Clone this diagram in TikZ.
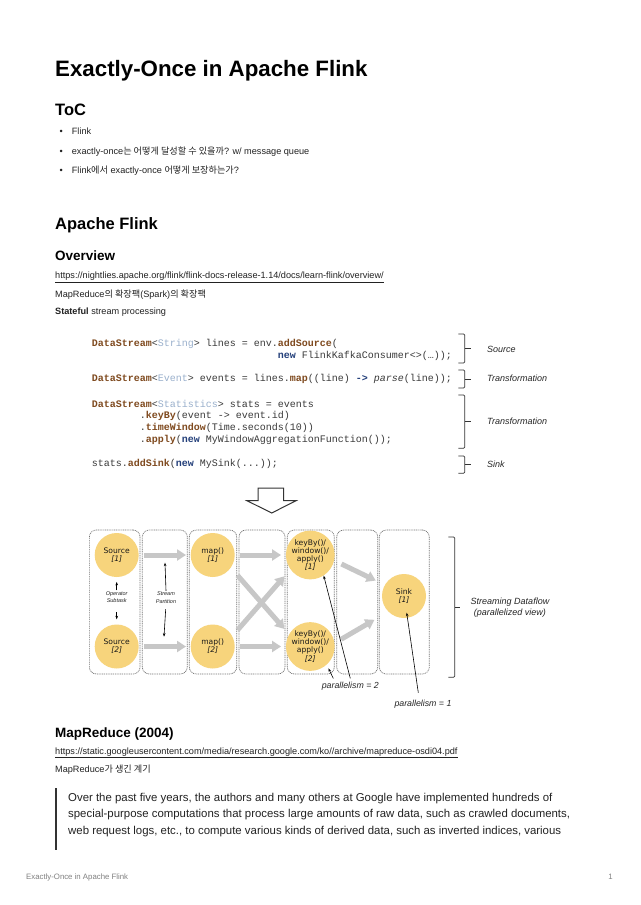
\documentclass[tikz,border=0pt]{standalone}
\usepackage{fontspec}
\setmainfont{Liberation Sans}
\setmonofont{Liberation Mono}
\newfontfamily\krfont{Noto Sans CJK KR}
\newfontfamily\opfont{DejaVu Sans}
\usetikzlibrary{arrows.meta,positioning,calc}

\definecolor{codebrown}{HTML}{7F4A1F}
\definecolor{codetype}{HTML}{9AB0CC}
\definecolor{codenew}{HTML}{233F7A}
\definecolor{codetext}{HTML}{3A3A3A}
\definecolor{opfill}{HTML}{F7D47C}
\definecolor{bodytext}{HTML}{222222}

\newcommand\fs[2]{\fontsize{#1}{#2}\selectfont}
\newcommand\kw[1]{\textcolor{codebrown}{\textbf{#1}}}
\newcommand\ty[1]{\textcolor{codetype}{#1}}
\newcommand\nw[1]{\textcolor{codenew}{\textbf{#1}}}
\newcommand\hangul[1]{{\krfont #1}}
\newcommand\bul{\makebox[12.2pt][l]{•}}
% square brace: x, top, bottom, tick length
\newcommand\sqbrace[4]{%
  \draw[brc] (#1,#2) -- (#1+6.5,#2) -- (#1+6.5,#3) -- (#1,#3);
  \draw[brc] (#1+6.5,{(#2+#3)/2}) -- ++(#4,0);}

\begin{document}
\begin{tikzpicture}[
    x=1pt, y=-1pt,
    txt/.style={anchor=base west, inner sep=0pt, text=bodytext, font=\fs{9.15}{11}},
    hone/.style={anchor=base west, inner sep=0pt, font=\bfseries\fs{22.3}{26}},
    htwo/.style={anchor=base west, inner sep=0pt, font=\bfseries\fs{16.5}{20}},
    hthree/.style={anchor=base west, inner sep=0pt, font=\bfseries\fs{13.5}{16}},
    code/.style={anchor=base west, inner sep=0pt, text=codetext, font=\ttfamily\fs{10}{12}},
    brc/.style={line width=0.8pt, draw=black!80, rounded corners=1.2pt},
    blab/.style={anchor=base west, inner sep=0pt, text=black!85, font=\itshape\fs{9}{11}},
    col/.style={draw=black!55, dash pattern=on 1pt off 0.8pt, line width=0.7pt, rounded corners=7pt, minimum height=144pt},
    op/.style={circle, fill=opfill, minimum size=44pt, inner sep=0pt, align=center, text=black!90, font=\opfont\fs{7.6}{8.2}},
    flow/.style={-{Triangle[width=11pt,length=9pt]}, line width=5pt, draw=black!22},
    tiny/.style={align=center, inner sep=1pt, text=black!85, font=\itshape\fs{5.5}{7.2}},
    ptr/.style={-{Stealth[length=3.5pt,width=2.6pt]}, line width=0.6pt},
    plab/.style={inner sep=0pt, text=black!85, font=\itshape\fs{8.8}{10}},
    qt/.style={anchor=base west, inner sep=0pt, text=bodytext, font=\fs{11.4}{14}},
    foot/.style={anchor=base west, inner sep=0pt, text=black!50, font=\fs{7.8}{9}}
]
\fill[white] (0,0) rectangle (640,905);
\useasboundingbox (0,0) rectangle (640,905);

% headings and toc
\node[hone] (title) at (55,76) {Exactly-Once in Apache Flink};
\node[htwo] (toc) at (55,115.5) {ToC};
\node[txt] (toc1) at (59.5,134.5) {\bul Flink};
\node[txt] (toc2) at (59.5,154) {\bul exactly-once\hangul{는 어떻게 달성할 수 있을까}? w/ message queue};
\node[txt] (toc3) at (59.5,173) {\bul Flink\hangul{에서} exactly-once \hangul{어떻게 보장하는가}?};
\node[htwo] (apache) at (55,229.5) {Apache Flink};
\node[hthree] (overview) at (55,260.5) {Overview};
\node[txt] (link1) at (55,278.5) {\underline{https://nightlies.apache.org/flink/flink-docs-release-1.14/docs/learn-flink/overview/}};
\node[txt] (spark) at (55,297) {MapReduce\hangul{의 확장팩}(Spark)\hangul{의 확장팩}};
\node[txt] (stateful) at (55,314.5) {\textbf{Stateful} stream processing};

% code
\node[code] (ln1) at (91.7,346) {\kw{DataStream}<\ty{String}> lines = env.\kw{addSource}(};
\node[code] (ln2) at (277.7,358.7) {\nw{new} FlinkKafkaConsumer<>(…));};
\node[code] (ln3) at (91.7,381) {\kw{DataStream}<\ty{Event}> events = lines.\kw{map}((line) \nw{->} \textit{parse}(line));};
\node[code] (ln4) at (91.7,407) {\kw{DataStream}<\ty{Statistics}> stats = events};
\node[code] (ln5) at (139.7,418.7) {.\kw{keyBy}(event -> event.id)};
\node[code] (ln6) at (139.7,430.3) {.\kw{timeWindow}(Time.seconds(10))};
\node[code] (ln7) at (139.7,442) {.\kw{apply}(\nw{new} MyWindowAggregationFunction());};
\node[code] (ln8) at (91.7,466) {stats.\kw{addSink}(\nw{new} MySink(...));};
\sqbrace{458.3}{334}{363}{6}
\sqbrace{458.3}{370}{388}{6}
\sqbrace{458.3}{395}{448.3}{6}
\sqbrace{458.3}{456}{473.3}{6}
\node[blab] (lsrc) at (487,352) {Source};
\node[blab] (ltr1) at (487,381) {Transformation};
\node[blab] (ltr2) at (487,424.5) {Transformation};
\node[blab] (lsnk) at (487,467) {Sink};

% hollow arrow
\draw[line width=1pt, draw=black!80] (258,488) -- (283.5,488) -- (283.5,500.7) -- (296,500.7) -- (271.7,513) -- (247,500.7) -- (258,500.7) -- cycle;

% dataflow
\node[col, minimum width=50.7pt] (col1) at (114.7,602) {};
\node[col, minimum width=45pt] (col2) at (164.8,602) {};
\node[col, minimum width=47.4pt] (col3) at (213,602) {};
\node[col, minimum width=46pt] (col4) at (262,602) {};
\node[col, minimum width=47pt] (col5) at (310.8,602) {};
\node[col, minimum width=41pt] (col6) at (357.2,602) {};
\node[col, minimum width=50pt] (col7) at (404.3,602) {};
\node[op] (src1) at (116.7,555) {Source\\\textit{[1]}};
\node[op] (src2) at (116.7,646.5) {Source\\\textit{[2]}};
\node[op] (map1) at (212.7,555) {map()\\\textit{[1]}};
\node[op] (map2) at (212.7,646.5) {map()\\\textit{[2]}};
\node[op] (win1) at (310.3,555) {keyBy()/\\window()/\\apply()\\\textit{[1]}};
\node[op] (win2) at (310.3,646.5) {keyBy()/\\window()/\\apply()\\\textit{[2]}};
\node[op] (sink) at (404,596) {Sink\\\textit{[1]}};
\draw[flow, shorten <=5.5pt, shorten >=4.5pt] (src1) -- (map1);
\draw[flow, shorten <=5.5pt, shorten >=4.5pt] (src2) -- (map2);
\draw[flow, shorten <=5.3pt, shorten >=4.7pt] (map1) -- (win1);
\draw[flow, shorten <=5.3pt, shorten >=4.7pt] (map2) -- (win2);
\draw[flow, shorten <=10pt, shorten >=7pt] (map1.-35) -- (win2.150);
\draw[flow, shorten <=8pt, shorten >=9pt] (map2.28) -- (win1.216);
\draw[flow, shorten <=8pt, shorten >=10pt] (win1.-13) -- (sink.150);
\draw[flow, shorten <=7.5pt, shorten >=16pt] (win2.8) -- (sink.225);

\node[tiny] (opsub) at (116.7,597) {Operator\\Subtask};
\draw[ptr, shorten >=4.7pt] (opsub.north) -- (src1.south);
\draw[ptr, shorten <=8pt, shorten >=5pt] (opsub.south) -- (src2.north);
\node[tiny] (spart) at (166,597.5) {Stream\\Partition};
\coordinate (sp1) at (165,562.7);
\coordinate (sp2) at (164,636.7);
\draw[ptr] (spart.north) -- (sp1);
\draw[ptr, shorten <=5pt] (spart.south) -- (sp2);

\node[plab] (par2) at (350.3,686.7) {parallelism = 2};
\node[plab] (par1) at (423,704) {parallelism = 1};
\coordinate (sinkin) at ($(sink)+(2.7,16.7)$);
\draw[ptr] ($(par2.north)+(0,-4)$) -- (win1.-57);
\draw[ptr, shorten >=4pt] ($(par2.north)+(-17,-4)$) -- (win2.-48);
\draw[ptr] ($(par1.north)+(-4.7,-7)$) -- (sinkin);

\sqbrace{448.3}{537}{677.3}{5}
\node[plab, align=center, font=\itshape\fs{9}{10.5}] (dflow) at (510,607.5) {Streaming Dataflow\\(parallelized view)};

% mapreduce
\node[hthree] (mapred) at (55,737.7) {MapReduce (2004)};
\node[txt] (link2) at (55,754) {\underline{https://static.googleusercontent.com/media/research.google.com/ko//archive/mapreduce-osdi04.pdf}};
\node[txt] (why) at (55,772) {MapReduce\hangul{가 생긴 계기}};
\draw[line width=2pt, draw=black!80] (56,788) -- (56,850);
\node[qt] (q1) at (68,801) {Over the past five years, the authors and many others at Google have implemented hundreds of};
\node[qt] (q2) at (68,817.7) {special-purpose computations that process large amounts of raw data, such as crawled documents,};
\node[qt] (q3) at (68,834.3) {web request logs, etc., to compute various kinds of derived data, such as inverted indices, various};

% footer
\node[foot] (ftitle) at (26,879) {Exactly-Once in Apache Flink};
\node[foot, anchor=base east] (fpage) at (613,879) {1};
\end{tikzpicture}
\end{document}
